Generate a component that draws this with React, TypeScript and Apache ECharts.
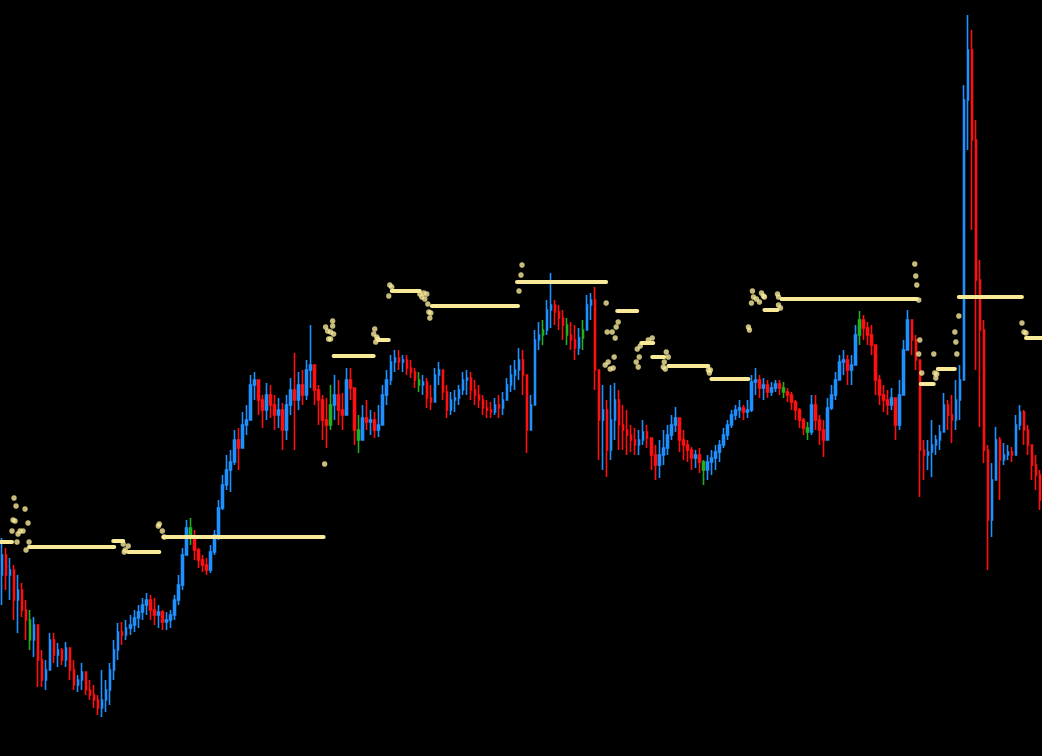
import React, { useEffect, useRef } from "react";
import * as echarts from "echarts";

// Price path, one bar per column (values are heights above the chart's bottom edge)
const firstOpen = 181;
const closes = [
  201,181,186,156,166,146,136,116,131,96,
  76,86,116,101,106,96,108,86,71,76,
  84,66,61,56,48,56,66,86,106,124,
  121,128,131,138,144,151,156,146,141,144,
  134,136,141,156,171,201,228,218,206,196,
  191,186,204,221,248,271,286,294,316,308,
  331,336,371,376,356,346,361,351,341,346,
  326,351,366,356,371,361,386,391,366,356,
  336,331,351,361,346,341,376,368,326,316,
  338,334,336,326,331,361,376,394,398,394,
  396,388,384,376,371,374,358,354,381,386,
  364,346,356,358,366,376,378,366,361,356,
  348,346,344,351,348,356,371,381,386,396,
  381,326,351,416,421,426,446,451,444,438,
  431,421,416,408,418,426,451,456,386,336,
  346,306,336,356,331,326,321,316,311,316,
  324,318,301,291,301,308,321,331,338,316,
  311,306,298,301,294,286,294,298,304,311,
  321,331,341,346,348,344,346,374,376,368,
  371,364,368,372,368,364,361,354,346,336,
  328,324,351,336,326,316,348,361,376,394,
  396,386,391,421,436,428,421,411,376,361,
  356,351,358,331,361,406,436,416,396,306,
  301,304,311,316,324,351,341,336,356,376,
  656,706,616,476,426,306,236,276,316,296,
  301,304,301,331,344,326,311,291,281,256,
];
const highs = [
  218,208,198,191,181,173,156,146,139,126,
  106,96,123,123,113,108,114,106,96,81,
  93,81,76,71,61,86,76,93,116,133,
  134,136,141,146,151,158,163,161,158,151,
  146,144,146,161,181,208,236,238,226,208,
  201,198,211,226,256,281,301,306,326,328,
  344,351,381,384,371,361,373,371,361,358,
  353,361,378,403,384,386,396,431,391,371,
  361,358,371,381,376,363,388,388,356,341,
  351,356,346,344,351,371,386,401,406,406,
  401,401,396,388,384,381,378,371,388,394,
  381,371,364,366,371,384,386,384,376,371,
  361,356,354,358,361,364,378,391,396,408,
  406,371,361,426,434,436,456,483,456,451,
  446,438,434,431,428,436,461,463,469,376,
  371,356,371,373,366,351,346,331,328,326,
  336,331,316,311,316,326,331,341,349,336,
  326,316,309,306,308,296,301,306,311,316,
  328,336,346,351,356,351,356,381,388,381,
  378,376,374,376,376,374,368,364,356,348,
  338,334,361,361,341,336,358,371,384,401,
  406,401,401,431,445,441,434,431,406,381,
  371,366,368,356,376,416,446,436,421,391,
  316,316,336,321,331,363,356,361,376,391,
  671,741,726,636,496,436,311,293,329,319,
  313,311,309,341,351,346,331,306,301,286,
];
const lows = [
  151,166,156,136,123,139,116,106,99,69,
  69,66,91,93,89,91,89,76,66,64,
  66,61,56,48,41,39,44,51,76,96,
  111,116,121,124,128,136,141,136,131,128,
  126,126,128,136,151,166,201,211,196,188,
  184,181,183,201,216,246,266,264,291,286,
  311,321,336,356,341,328,336,338,326,328,
  306,316,341,306,346,351,356,368,351,331,
  316,308,326,336,331,326,351,356,311,303,
  321,326,321,318,319,336,351,371,384,386,
  384,381,378,368,364,361,348,346,356,371,
  356,338,341,344,351,361,361,356,351,348,
  341,338,338,341,338,341,356,364,366,376,
  361,303,326,356,406,411,421,428,431,426,
  416,411,406,396,401,406,426,436,366,296,
  286,279,296,316,306,306,301,304,301,301,
  311,308,286,276,278,291,301,316,324,304,
  296,294,286,288,283,271,276,281,286,294,
  308,316,328,336,338,336,338,344,361,358,
  356,358,360,364,361,358,354,346,336,328,
  321,316,321,326,311,299,331,346,356,376,
  381,371,371,396,411,416,411,401,361,351,
  344,341,346,316,326,371,411,401,386,259,
  276,286,279,301,306,331,326,313,326,336,
  376,606,526,386,329,293,186,219,293,256,
  291,296,294,311,326,311,301,276,266,246,
];
// bars flagged as neutral (drawn green)
const neutralBars = [7, 47, 82, 89, 104, 135, 141, 145, 175, 195, 201, 214];

// indicator: isolated points [barIndex, level]
const indicatorDots = [
  [3,258],[3.5,250],[5.75,247],[2.75,236],[3.25,235],[6.5,233],[2.5,225],[4.5,225],[5.25,225],[4,222],[6.75,214],[3.75,214],[6,206],
  [30.25,212],[31.5,210],[30.75,206],[30.5,204],
  [39.25,232],[39,230],[40,225],[40.5,219],
  [80.5,292],
  [82.5,435],[80.75,429],[82.5,430],[81.25,425],[82,424],[82.75,422],[81.5,417],[82,417],
  [93,427],[92.75,422],[93.5,419],[93.75,417],[93.25,414],
  [96.75,471],[97.25,469],[96.5,460],
  [104.25,462],[105.25,463],[106,462],[104.75,459],[105.5,457],[106.25,452],[106.5,444],[107,443],[106.75,438],
  [129.5,481],[129.75,491],[129,465],
  [150.75,453],
  [153.75,434],[153.25,429],[151,424],[152.25,424],[153,418],[152.75,399],[151.25,394],[150.5,391],[152.5,388],[151.75,387],
  [162.25,418],[161.25,416],[159.25,410],[158.5,407],
  [159,399],[166.25,399],[165.75,404],[158.25,394],[158.75,389],[165.25,394],[165,389],[165.5,387],
  [176.25,386],[176.75,386],[176.5,383],
  [186.25,429],[186.5,426],
  [187.25,465],[187.5,459],[188.25,457],[187,453],[189,454],[189.5,463],[190,460],[190.25,459],[193.5,462],[193.75,459],[193.75,451],[194.25,448],
  [227.75,492],[228,480],[228.25,471],[228.75,456],
  [229,416],[228.75,402],[232.5,402],[229.5,383],
  [232.75,383],[233.25,382],[233,378],
  [238.75,440],[237.75,424],[238,414],[238.25,402],
  [254.5,433],[255,424],[255.5,423],
];
// indicator: flat runs [startIndex, endIndex, level]
const indicatorRuns = [
  [-0.4,2.5,214],[6.75,28,209],[27.75,30.25,215],[31.5,39.25,204],[40.25,80.25,219],
  [82.75,92.75,400],[94,96.5,416],[97.25,104.25,465],[107.25,128.75,450],[128.5,150.75,474],
  [153.5,158.5,445],[159.5,162.5,413],[162.25,165.25,399],[166.25,176.25,390],[177,186.25,377],
  [190.25,193.5,446],[194.5,228.25,457],[229.25,232.5,372],[233.5,237.75,387],[238.75,254.5,459],
  [255.5,259.6,418],
];

const UP = "#1e90ff";
const DOWN = "#ff1010";
const NEUTRAL = "#22b022";
const YELLOW = "#f8ea98";

export default function App() {
  const ref = useRef<HTMLDivElement>(null);
  useEffect(() => {
    document.body.style.margin = "0";
    document.body.style.background = "#000";
    const chart = echarts.init(ref.current!, null, { renderer: "svg" });
    const N = closes.length;
    const candleData = closes.map((c, i) => {
      const open = i === 0 ? firstOpen : closes[i - 1];
      const item: any = { value: [open, c, lows[i], highs[i]] };
      if (neutralBars.includes(i)) {
        item.itemStyle = { color: NEUTRAL, color0: NEUTRAL, borderColor: NEUTRAL, borderColor0: NEUTRAL };
      }
      return item;
    });
    const runSeries = indicatorRuns.map(([s, e, v]) => ({
      type: "line",
      xAxisIndex: 1,
      yAxisIndex: 0,
      data: [[s, v], [e, v]],
      symbol: "none",
      silent: true,
      z: 4,
      lineStyle: { color: YELLOW, width: 4, cap: "round" },
    }));
    chart.setOption({
      animation: false,
      backgroundColor: "#000",
      grid: { left: 0, right: 0, top: 0, bottom: 0 },
      xAxis: [
        { type: "category", data: closes.map((_, i) => String(i)), show: false, boundaryGap: true },
        { type: "value", min: -0.5, max: N - 0.5, show: false },
      ],
      yAxis: { type: "value", min: 0, max: 756, show: false },
      series: [
        {
          type: "candlestick",
          data: candleData,
          barWidth: 2,
          z: 2,
          itemStyle: {
            color: UP,
            color0: DOWN,
            borderColor: UP,
            borderColor0: DOWN,
            borderColorDoji: NEUTRAL,
            borderWidth: 1.6,
          },
        },
        ...runSeries,
        {
          type: "scatter",
          xAxisIndex: 1,
          yAxisIndex: 0,
          data: indicatorDots,
          symbolSize: 5.5,
          z: 5,
          itemStyle: { color: YELLOW },
        },
      ],
    });
    return () => chart.dispose();
  }, []);
  return <div ref={ref} style={{ width: 1042, height: 756, background: "#000" }} />;
}
